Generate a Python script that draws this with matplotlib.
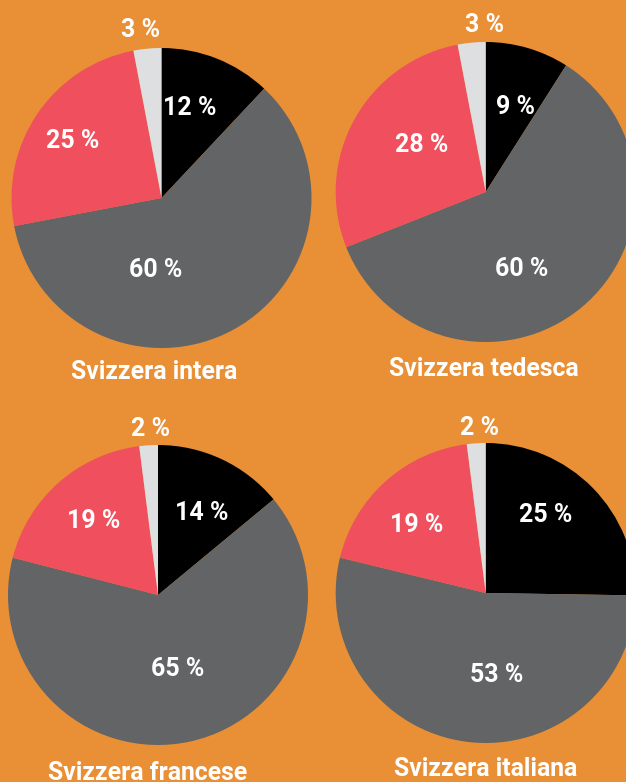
import matplotlib
matplotlib.use('Agg')
import matplotlib.pyplot as plt

plt.rcParams['font.family'] = ['Roboto', 'DejaVu Sans']

# Data: black, dark gray, red, light gray (clockwise from 12 o'clock)
regions = ['Svizzera intera', 'Svizzera tedesca', 'Svizzera francese', 'Svizzera italiana']
share_black = [12, 9, 14, 25]
share_gray = [60, 60, 65, 53]
share_red = [25, 28, 19, 19]
share_light = [3, 3, 2, 2]

colors = ['#000000', '#636466', '#F04F5D', '#DEDFE1']
bg = '#E98F35'

W, H = 626, 782
R = 150
# pie centres in pixel layout (from top-left)
centers = [(161.5, 198), (485.7, 192), (158, 595), (485.7, 593)]
# label offsets (in radius units) for each slice: black, gray, red, light
label_pos = [
    [(0.19, 0.60), (-0.04, -0.48), (-0.59, 0.38), (-0.14, 1.12)],
    [(0.20, 0.57), (0.24, -0.51), (-0.43, 0.31), (-0.01, 1.11)],
    [(0.29, 0.55), (0.13, -0.49), (-0.43, 0.49), (-0.05, 1.11)],
    [(0.40, 0.52), (0.07, -0.55), (-0.46, 0.45), (-0.04, 1.10)],
]
title_pos = [(-0.05, -1.16), (-0.01, -1.18), (-0.07, -1.19), (0.0, -1.17)]

fig = plt.figure(figsize=(W / 100, H / 100), dpi=100, facecolor=bg)
ax = fig.add_axes([0, 0, 1, 1])
ax.set_facecolor(bg)

for i, name in enumerate(regions):
    vals = [share_black[i], share_gray[i], share_red[i], share_light[i]]
    cx, cy = centers[i][0], H - centers[i][1]
    ax.pie(vals, colors=colors, startangle=90, counterclock=False,
           center=(cx, cy), radius=R, frame=True,
           wedgeprops=dict(linewidth=0))
    for v, (dx, dy) in zip(vals, label_pos[i]):
        ax.text(cx + dx * R, cy + dy * R, f'{v} %', color='white',
                fontsize=18, fontweight='bold', ha='center', va='center')
    tx, ty = title_pos[i]
    ax.text(cx + tx * R, cy + ty * R, name, color='white',
            fontsize=17.8, fontweight='bold', ha='center', va='center')

ax.set_xlim(0, W)
ax.set_ylim(0, H)
ax.set_aspect('equal')
ax.axis('off')

fig.savefig('out.png', dpi=100, facecolor=bg)
